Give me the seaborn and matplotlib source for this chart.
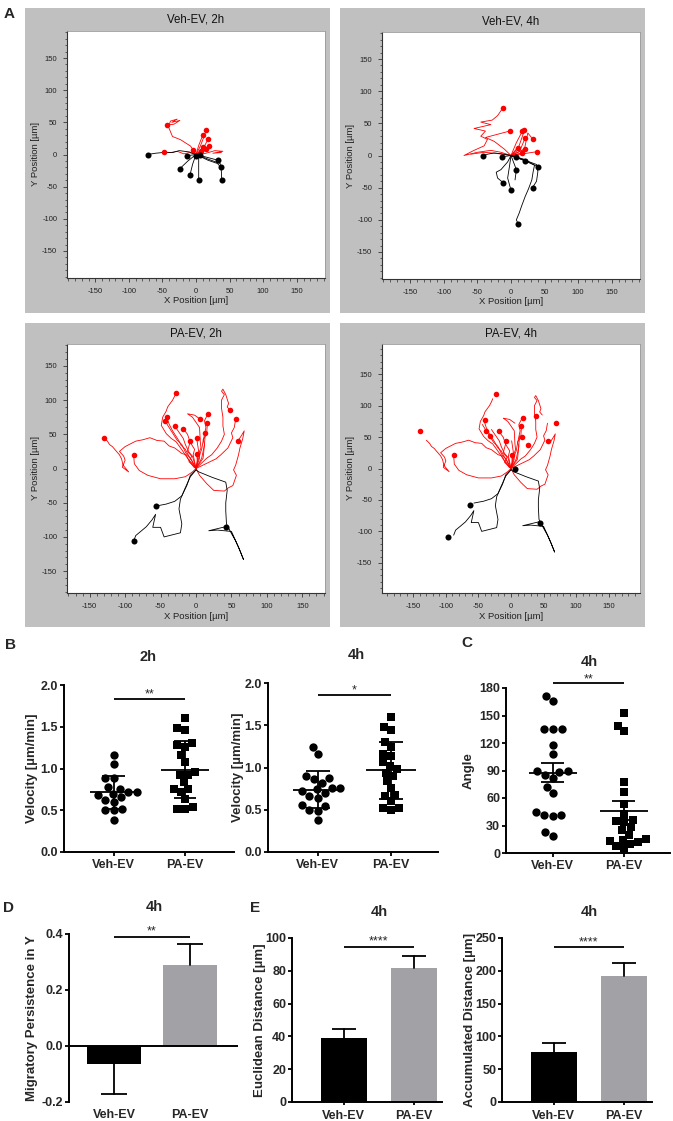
import numpy as np
import pandas as pd
import matplotlib.pyplot as plt
from matplotlib.patches import Rectangle
from matplotlib.ticker import MultipleLocator
import seaborn as sns

sns.set_theme(style='ticks')
plt.rcParams['font.family'] = ['Liberation Sans', 'DejaVu Sans']
plt.rcParams['axes.unicode_minus'] = False

groups = ['Veh-EV', 'PA-EV']

# ---------------- panel A: cell tracks (µm), waypoints + end points ----------------
veh2_red_paths = [
    [(0, 0), (-8, 13), (-23, 23), (-35, 28), (-41, 43), (-38, 52), (-28, 55), (-36, 50), (-24, 53), (-33, 47), (-43, 46)],
    [(0, 0), (-10, 3), (-18, 1), (-28, 5), (-38, 3), (-48, 4)],
    [(0, 0), (6, 12), (12, 28), (15, 38)],
    [(0, 0), (4, 14), (10, 30)],
    [(0, 0), (10, 8), (18, 24)],
    [(0, 0), (6, 6), (11, 12)],
    [(0, 0), (12, 5), (19, 13)],
    [(0, 0), (15, 9)],
    [(0, 0), (8, 5)],
    [(0, 0), (-5, 7)],
    [(0, 0), (15, 2), (28, 6), (40, 5), (25, 2), (38, 3)],
]
veh2_red_ends = [(-43, 46), (-48, 4), (15, 38), (10, 30), (18, 24), (11, 12), (19, 13), (15, 9), (8, 5), (-5, 7)]
veh2_blk_paths = [
    [(0, 0), (-10, 4), (-25, 6), (-35, 3), (-50, 3), (-60, 2), (-72, 0)],
    [(0, 0), (-14, -2)],
    [(0, 0), (6, -1)],
    [(0, 0), (15, -4), (33, -9)],
    [(0, 0), (18, -9), (32, -14), (37, -20)],
    [(0, 0), (-12, -10), (-24, -22)],
    [(0, 0), (-5, -15), (-9, -32)],
    [(0, 0), (4, -5), (4, -40)],
    [(0, 0), (20, -8), (36, -14), (38, -28), (38, -40)],
]
veh2_blk_ends = [(-72, 0), (-14, -2), (6, -1), (33, -9), (37, -20), (-24, -22), (-9, -32), (4, -40), (38, -40), (0, -3)]

veh4_red_paths = [
    [(0, 0), (-15, 5), (-30, 8), (-50, 5), (-70, 0), (-55, 8), (-40, 15), (-35, 25), (-45, 30), (-38, 38),
     (-55, 42), (-30, 48), (-45, 52), (-28, 55), (-20, 62), (-12, 74)],
    [(0, 0), (-10, 10), (-25, 22), (-38, 28), (-20, 33), (-2, 38)],
    [(0, 0), (8, 20), (17, 38)],
    [(0, 0), (12, 15), (20, 39)],
    [(0, 0), (20, 10), (25, 35), (32, 26)],
    [(0, 0), (15, 12), (21, 27)],
    [(0, 0), (11, 12)],
    [(0, 0), (21, 10)],
    [(0, 0), (20, 3), (39, 6)],
    [(0, 0), (16, 4)],
    [(0, 0), (-20, 3), (-40, 5), (-60, 2)],
]
veh4_red_ends = [(-12, 74), (-2, 38), (17, 38), (20, 39), (32, 26), (21, 27), (11, 12), (21, 10), (39, 6), (16, 4)]
veh4_blk_paths = [
    [(0, 0), (-10, 2), (-25, 4), (-35, 2), (-42, -1)],
    [(0, 0), (-13, -2)],
    [(0, 0), (7, -2)],
    [(0, 0), (21, -8)],
    [(0, 0), (20, -6), (40, -18)],
    [(0, 0), (8, -22), (6, -38)],
    [(0, 0), (-5, -10), (-15, -22), (-22, -26), (-20, -35), (-12, -42)],
    [(0, 0), (-2, -15), (-5, -35), (0, -54)],
    [(0, 0), (20, -7), (38, -14), (40, -25), (38, -40), (32, -50)],
    [(0, 0), (20, -8), (35, -15), (33, -25), (31, -38), (26, -52), (21, -64), (16, -78), (12, -90), (8, -100), (11, -107)],
]
veh4_blk_ends = [(-42, -1), (-13, -2), (7, -2), (21, -8), (40, -18), (8, -22), (-12, -42), (0, -54), (32, -50), (11, -107)]

pa_red_paths = [
    [(0, 0), (-6, 8), (-10, 12), (-14, 20), (-20, 22), (-30, 30), (-38, 33), (-45, 40), (-55, 41), (-65, 45),
     (-75, 42), (-85, 40), (-100, 32), (-108, 25), (-102, 18), (-100, 12), (-104, 2), (-95, -5), (-103, 5),
     (-105, 14), (-108, 20), (-118, 32), (-122, 35), (-125, 40), (-130, 45)],
    [(0, 0), (-5, -5), (-15, -12), (-30, -15), (-50, -15), (-68, -10), (-80, -3), (-87, 7), (-88, 20)],
    [(0, 0), (-3, 2), (-10, 12), (-19, 26), (-28, 39), (-35, 44), (-42, 51), (-49, 63), (-47, 75), (-42, 84),
     (-40, 90), (-33, 100), (-30, 106), (-28, 111)],
    [(0, 0), (-6, 12), (-10, 18), (-15, 28), (-21, 34), (-25, 42), (-33, 55), (-38, 65), (-41, 75)],
    [(0, 0), (-8, 15), (-14, 22), (-20, 35), (-27, 42), (-35, 55), (-44, 70)],
    [(0, 0), (-5, 18), (-10, 24), (-15, 35), (-18, 44), (-22, 50), (-30, 62)],
    [(0, 0), (-4, 20), (-2, 28), (-8, 38), (-12, 50), (-18, 58)],
    [(0, 0), (-10, 10), (-6, 18), (-12, 25), (-8, 40)],
    [(0, 0), (5, 15), (3, 30), (1, 44)],
    [(0, 0), (2, 10), (1, 21)],
    [(0, 0), (3, 20), (7, 30), (6, 40), (5, 60), (-5, 75), (-12, 80), (-2, 78), (6, 72)],
    [(0, 0), (5, 20), (8, 28), (10, 40), (14, 60), (12, 70), (17, 80)],
    [(0, 0), (8, 15), (12, 35), (10, 42), (15, 50), (16, 66)],
    [(0, 0), (10, 15), (12, 35), (13, 52)],
    [(0, 0), (15, 15), (22, 20), (30, 30), (36, 40), (40, 50), (38, 62), (38, 75), (36, 88), (36, 100),
     (40, 108), (36, 113), (38, 116), (42, 108), (46, 95), (44, 90), (48, 85)],
    [(0, 0), (20, 10), (28, 14), (35, 20), (45, 30), (52, 45), (50, 52), (54, 60), (56, 72)],
    [(0, 0), (5, -10), (15, -22), (25, -32), (40, -33), (46, -28), (52, -25), (57, -10), (53, -2), (56, 5),
     (60, 20), (62, 30), (66, 44), (68, 55), (64, 48), (59, 40)],
]
pa_blk_paths = [
    [(0, -2), (-8, -10), (-13, -25), (-20, -40), (-30, -48), (-42, -52), (-57, -55)],
    [(0, -2), (-8, -12), (-15, -28), (-22, -45), (-24, -59), (-20, -81), (-22, -94), (-45, -100), (-50, -86),
     (-61, -86), (-57, -67), (-62, -75), (-70, -85), (-78, -92), (-85, -98), (-88, -106)],
    [(0, -2), (4, -5), (23, -13), (42, -20), (44, -32), (42, -50), (42, -62), (43, -81), (50, -95), (56, -106),
     (62, -120), (67, -133), (60, -115), (50, -92), (30, -90), (18, -91), (30, -88), (42, -85)],
]
pa2_red_ends = [(-130, 45), (-88, 20), (-28, 111), (-41, 75), (-44, 70), (-30, 62), (-18, 58), (-8, 40), (1, 44),
                (1, 21), (6, 72), (17, 80), (16, 66), (13, 52), (48, 85), (56, 72), (59, 40)]
pa2_blk_ends = [(-57, -55), (-88, -106), (42, -85)]
pa4_red_ends = [(-140, 59), (-87, 21), (-23, 118), (-40, 77), (-39, 59), (-32, 52), (-18, 59), (-8, 43), (1.5, 21),
                (18, 80), (16, 67), (17, 50), (26, 37), (38, 84), (57, 44), (68.5, 72)]
pa4_blk_ends = [(6, 0), (-63, -58), (-96, -109), (44, -87)]

# ---------------- panel B: velocity [µm/min] ----------------
vel2_veh = [1.16, 1.05, 0.89, 0.89, 0.78, 0.76, 0.72, 0.72, 0.70, 0.68, 0.66, 0.62, 0.60, 0.52, 0.50, 0.50, 0.38]
vel2_pa = [1.60, 1.48, 1.46, 1.30, 1.28, 1.26, 1.16, 1.08, 0.96, 0.92, 0.92, 0.84, 0.76, 0.76, 0.72, 0.64,
           0.54, 0.52, 0.52]
vel4_veh = [1.24, 1.16, 0.90, 0.88, 0.86, 0.82, 0.76, 0.76, 0.74, 0.72, 0.70, 0.66, 0.64, 0.56, 0.54, 0.50,
            0.48, 0.38]
vel4_pa = [1.60, 1.48, 1.44, 1.30, 1.24, 1.16, 1.14, 1.06, 1.02, 0.98, 0.94, 0.90, 0.84, 0.76, 0.68, 0.66,
           0.60, 0.52, 0.52, 0.50]

# ---------------- panel C: angle ----------------
ang_veh = [171, 166, 135, 135, 135, 118, 108, 90, 89, 88, 85, 82, 72, 65, 45, 42, 42, 40, 23, 19]
ang_pa = [153, 139, 133, 77, 67, 53, 43, 36, 35, 34, 28, 25, 20, 15, 14, 13, 12, 10, 8, 5]

# ---------------- panels D / E: mean and SEM ----------------
persist_mean = [-0.065, 0.289]
persist_sem = [0.106, 0.076]
euclid_mean = [39.3, 81.8]
euclid_sem = [5.3, 7.2]
accum_mean = [76.5, 192.5]
accum_sem = [13.0, 19.5]

bar_colors = ['black', '#a2a2a6']

W, H = 673, 1121
fig = plt.figure(figsize=(W / 100, H / 100), dpi=100)


def px_axes(l, t, r, b):
    return fig.add_axes([l / W, 1 - b / H, (r - l) / W, (b - t) / H])


def fig_text(x, y, s, **kw):
    fig.text(x / W, 1 - y / H, s, ha='center', va='center', **kw)


def tracks_df(paths):
    rows = [(i, x, y) for i, p in enumerate(paths) for x, y in p]
    return pd.DataFrame(rows, columns=['track', 'x', 'y'])


def track_panel(box, plot, title, lim, red_paths, red_ends, blk_paths, blk_ends):
    l, t, r, b = box
    fig.patches.append(Rectangle((l / W, 1 - b / H), (r - l) / W, (b - t) / H, transform=fig.transFigure,
                                 facecolor='#c0c0c0', edgecolor='none', zorder=-1))
    ax = px_axes(*plot)
    for paths, ends, c, s in ((red_paths, red_ends, '#ff0000', 16), (blk_paths, blk_ends, 'black', 19)):
        sns.lineplot(data=tracks_df(paths), x='x', y='y', units='track', estimator=None, sort=False,
                     color=c, lw=0.6, ax=ax)
        ex, ey = zip(*ends)
        sns.scatterplot(x=list(ex), y=list(ey), color=c, s=s, linewidth=0, zorder=3, ax=ax)
    ax.set_xlim(-lim, lim)
    ax.set_ylim(-lim, lim)
    for axis in (ax.xaxis, ax.yaxis):
        axis.set_major_locator(MultipleLocator(50))
        axis.set_minor_locator(MultipleLocator(10))
    ax.tick_params(which='major', length=3, width=0.6, color='#333333', labelsize=5.5, labelcolor='#222222', pad=4)
    ax.tick_params(which='minor', length=1.8, width=0.5, color='#333333')
    for side in ('left', 'bottom'):
        ax.spines[side].set_color('#333333')
        ax.spines[side].set_linewidth(0.8)
    for side in ('top', 'right'):
        ax.spines[side].set_color('#9a9a9a')
        ax.spines[side].set_linewidth(0.6)
    ax.set_xlabel('X Position [µm]', fontsize=6.8, color='#222222', va='center')
    ax.set_ylabel('Y Position [µm]', fontsize=6.8, color='#222222', va='center')
    ax.xaxis.set_label_coords(0.5, -0.093)
    ax.yaxis.set_label_coords(-0.124, 0.5)
    fig_text((plot[0] + plot[2]) / 2, plot[1] - 11, title, fontsize=8.3, color='#111111')


track_panel((25, 8, 330, 313), (67, 31, 325, 278), 'Veh-EV, 2h', 192,
            veh2_red_paths, veh2_red_ends, veh2_blk_paths, veh2_blk_ends)
track_panel((340, 8, 645, 313), (382, 32, 640, 279), 'Veh-EV, 4h', 192,
            veh4_red_paths, veh4_red_ends, veh4_blk_paths, veh4_blk_ends)
track_panel((25, 323, 330, 627), (67, 344, 325, 593), 'PA-EV, 2h', 182,
            pa_red_paths, pa2_red_ends, pa_blk_paths, pa2_blk_ends)
track_panel((340, 323, 645, 627), (382, 344, 640, 593), 'PA-EV, 4h', 198,
            pa_red_paths, pa4_red_ends, pa_blk_paths, pa4_blk_ends)


def gp_style(ax, xlim, ylim, yticks, ylabels, ylabel, label_x, xtick_len=3, xpad=2):
    ax.set_xlim(*xlim)
    ax.set_ylim(*ylim)
    sns.despine(ax=ax)
    for side in ('left', 'bottom'):
        ax.spines[side].set_linewidth(1.4)
        ax.spines[side].set_color('black')
    ax.set_yticks(yticks, labels=ylabels, fontsize=9, fontweight='bold')
    ax.set_xticks([0, 1], labels=groups, fontsize=9, fontweight='bold')
    ax.tick_params(axis='y', length=3.2, width=1.3, pad=1, color='black')
    ax.tick_params(axis='x', length=xtick_len, width=1.3, pad=xpad, color='black')
    ax.set_xlabel('')
    ax.set_ylabel(ylabel, fontsize=9.5, fontweight='bold', va='center')
    ax.yaxis.set_label_coords(label_x, 0.5)


def sig(ax, y, stars, off=1.0):
    ax.plot([0, 1], [y, y], color='black', lw=1.3, clip_on=False, solid_capstyle='butt')
    ax.annotate(stars, xy=(0.5, y), xytext=(0, off), textcoords='offset points', ha='center', va='baseline',
                fontsize=9, annotation_clip=False)


def dot_panel(ax, veh, pa, use_sem):
    df = pd.DataFrame({'group': ['Veh-EV'] * len(veh) + ['PA-EV'] * len(pa), 'value': veh + pa})
    sns.swarmplot(data=df[df.group == 'Veh-EV'], x='group', y='value', order=groups, color='black',
                  marker='o', size=6, ax=ax)
    sns.swarmplot(data=df[df.group == 'PA-EV'], x='group', y='value', order=groups, color='black',
                  marker='s', size=5.5, ax=ax)
    for i, vals in enumerate((veh, pa)):
        m = np.mean(vals)
        e = np.std(vals, ddof=1)
        if use_sem:
            e /= np.sqrt(len(vals))
        kw = dict(color='black', lw=1.3, zorder=5, solid_capstyle='butt')
        ax.plot([i - 0.34, i + 0.34], [m, m], **kw)
        ax.plot([i - 0.16, i + 0.16], [m + e, m + e], **kw)
        ax.plot([i - 0.16, i + 0.16], [m - e, m - e], **kw)
        ax.plot([i, i], [m - e, m + e], **kw)


def bar_panel(ax, means, sems, width):
    sns.barplot(x=groups, y=means, hue=groups, palette=bar_colors, saturation=1, width=width,
                legend=False, errorbar=None, linewidth=0, ax=ax)
    for i, (m, e) in enumerate(zip(means, sems)):
        end = m + e if m >= 0 else m - e
        ax.plot([i, i], [m, end], color='black', lw=1.3, zorder=4)
        ax.plot([i - 0.17, i + 0.17], [end, end], color='black', lw=1.3, zorder=4, solid_capstyle='butt')


vel_ticks = [0.0, 0.5, 1.0, 1.5, 2.0]
vel_labels = ['0.0', '0.5', '1.0', '1.5', '2.0']

# B, 2h
ax = px_axes(64, 685, 234, 852)
dot_panel(ax, vel2_veh, vel2_pa, use_sem=False)
gp_style(ax, (-0.70, 1.69), (0, 2.0), vel_ticks, vel_labels, 'Velocity [µm/min]', -0.188)
sig(ax, 1.83, '**')
fig_text(148, 657, '2h', fontsize=10.5, fontweight='bold')

# B, 4h
ax = px_axes(268, 683, 438, 852)
dot_panel(ax, vel4_veh, vel4_pa, use_sem=False)
gp_style(ax, (-0.68, 1.64), (0, 2.0), vel_ticks, vel_labels, 'Velocity [µm/min]', -0.176)
sig(ax, 1.86, '*')
fig_text(356, 655, '4h', fontsize=10.5, fontweight='bold')

# C
ax = px_axes(506, 688, 670, 853)
dot_panel(ax, ang_veh, ang_pa, use_sem=True)
ang_ticks = [0, 30, 60, 90, 120, 150, 180]
gp_style(ax, (-0.66, 1.65), (0, 180), ang_ticks, [str(v) for v in ang_ticks], 'Angle', -0.226)
sig(ax, 185, '**')
fig_text(589, 662, '4h', fontsize=10.5, fontweight='bold')

# D
ax = px_axes(69, 934, 238, 1102)
bar_panel(ax, persist_mean, persist_sem, 0.7)
gp_style(ax, (-0.59, 1.63), (-0.2, 0.4), [-0.2, 0.0, 0.2, 0.4], ['-0.2', '0.0', '0.2', '0.4'],
         'Migratory Persistence in Y', -0.219, xtick_len=0, xpad=5)
ax.spines['bottom'].set_visible(False)
ax.axhline(0, color='black', lw=1.4, zorder=3)
sig(ax, 0.39, '**', off=2)
fig_text(154, 907, '4h', fontsize=10.5, fontweight='bold')

# E, Euclidean
ax = px_axes(292, 938, 442, 1102)
bar_panel(ax, euclid_mean, euclid_sem, 0.66)
gp_style(ax, (-0.74, 1.4), (0, 100), [0, 20, 40, 60, 80, 100], ['0', '20', '40', '60', '80', '100'],
         'Euclidean Distance [µm]', -0.213, xtick_len=2.5, xpad=3)
sig(ax, 94.5, '****', off=1.5)
fig_text(379, 912, '4h', fontsize=10.5, fontweight='bold')

# E, Accumulated
ax = px_axes(502, 938, 652, 1102)
bar_panel(ax, accum_mean, accum_sem, 0.66)
gp_style(ax, (-0.74, 1.4), (0, 250), [0, 50, 100, 150, 200, 250], ['0', '50', '100', '150', '200', '250'],
         'Accumulated Distance [µm]', -0.213, xtick_len=2.5, xpad=3)
sig(ax, 236, '****', off=1.5)
fig_text(589, 912, '4h', fontsize=10.5, fontweight='bold')

# panel letters
for letter, x, y in (('A', 9, 14), ('B', 10, 645), ('C', 467, 643), ('D', 9, 908), ('E', 255, 908)):
    fig_text(x, y, letter, fontsize=11, fontweight='bold')

fig.savefig('out.png', dpi=100)
